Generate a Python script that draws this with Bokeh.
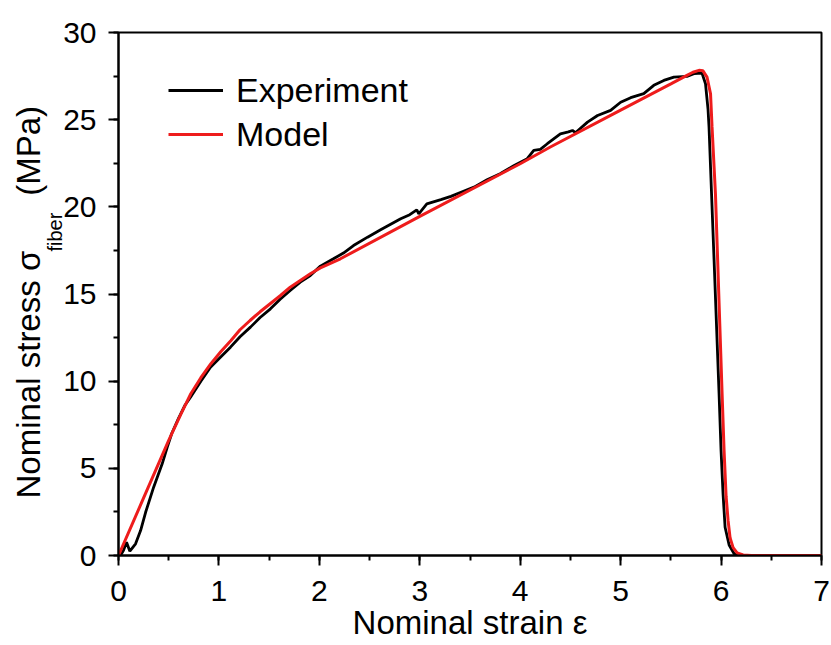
from bokeh.plotting import figure
from bokeh.models import (Legend, LegendItem, SingleIntervalTicker,
                          Range1d, ColumnDataSource, Title)
from bokeh.embed import file_html
from bokeh.resources import INLINE

# ---------------- data ----------------
exp_strain = [0.02, 0.05, 0.08, 0.113, 0.17, 0.22, 0.27, 0.35, 0.435, 0.485,
              0.53, 0.60, 0.66, 0.717, 0.82, 0.916, 1.02, 1.115, 1.21, 1.314,
              1.41, 1.513, 1.61, 1.71, 1.81, 1.91, 2.01, 2.14, 2.24, 2.34,
              2.48, 2.61, 2.71, 2.81, 2.90, 2.97, 2.99, 3.07, 3.21, 3.31,
              3.41, 3.54, 3.67, 3.80, 3.94, 4.07, 4.135, 4.20, 4.27, 4.40,
              4.48, 4.52, 4.55, 4.67, 4.77, 4.90, 5.00, 5.10, 5.23, 5.33,
              5.43, 5.53, 5.66, 5.73, 5.81, 5.845, 5.87, 5.88, 5.93, 5.98,
              6.00, 6.02, 6.04, 6.08, 6.13, 6.16]
exp_stress = [0.0, 0.3, 0.76, 0.25, 0.67, 1.43, 2.48, 3.92, 5.26, 6.2,
              7.0, 7.9, 8.6, 9.08, 10.0, 10.8, 11.4, 11.95, 12.55, 13.1,
              13.65, 14.15, 14.7, 15.2, 15.68, 16.06, 16.6, 17.02, 17.35, 17.78,
              18.26, 18.68, 19.0, 19.32, 19.55, 19.83, 19.6, 20.17, 20.41, 20.6,
              20.84, 21.13, 21.55, 21.9, 22.37, 22.76, 23.24, 23.3, 23.62, 24.19,
              24.3, 24.38, 24.25, 24.86, 25.24, 25.53, 26.0, 26.26, 26.49, 26.97,
              27.25, 27.44, 27.48, 27.64, 27.67, 27.06, 25.6, 24.57, 17.0, 9.28,
              6.0, 3.5, 1.62, 0.6, 0.1, 0.0]

model_strain = [0.0, 0.25, 0.50, 0.62, 0.72, 0.82, 0.92, 1.02, 1.12, 1.21,
                1.31, 1.41, 1.51, 1.61, 1.71, 1.81, 1.91, 2.01, 2.21, 3.0,
                4.0, 4.30, 5.0, 5.5, 5.66, 5.72, 5.78, 5.82, 5.86, 5.895,
                5.91, 5.944, 5.98, 6.01, 6.03, 6.05, 6.07, 6.09, 6.12, 6.16,
                6.22, 6.30, 7.0]
model_stress = [0.0, 3.3, 6.6, 8.1, 9.28, 10.2, 11.0, 11.7, 12.33, 12.95,
                13.48, 13.98, 14.44, 14.9, 15.39, 15.78, 16.16, 16.5, 17.02, 19.45,
                22.47, 23.43, 25.55, 27.05, 27.54, 27.72, 27.83, 27.8, 27.44, 26.49,
                24.6, 20.75, 14.5, 9.3, 6.0, 3.4, 2.0, 1.0, 0.45, 0.15,
                0.03, 0.0, 0.0]

series_labels = ["Experiment", "Model"]
x_title = "Nominal strain ε"
y_title_main = "Nominal stress σ"
y_title_sub = "fiber"
y_title_unit = "(MPa)"

FONT = "Liberation Sans"
RED = "#ee1c1c"
NBSP = "\u00a0"

# ---------------- figure ----------------
p = figure(width=830, height=645,
           x_range=Range1d(0, 7), y_range=Range1d(0, 30),
           output_backend="svg", toolbar_location=None,
           min_border_left=118, min_border_right=9,
           min_border_top=32, min_border_bottom=90)

p.grid.visible = False
p.outline_line_color = "black"
p.outline_line_width = 2
p.background_fill_color = "white"
p.border_fill_color = "white"

p.xaxis.ticker = SingleIntervalTicker(interval=1, num_minor_ticks=2)
p.yaxis.ticker = SingleIntervalTicker(interval=5, num_minor_ticks=2)

for ax in (p.xaxis[0], p.yaxis[0]):
    ax.axis_line_width = 2
    ax.axis_line_color = "black"
    ax.major_tick_line_width = 2
    ax.minor_tick_line_width = 2
    ax.major_tick_out = 10
    ax.major_tick_in = 0
    ax.minor_tick_out = 5
    ax.minor_tick_in = 0
    ax.major_label_text_font = FONT
    ax.major_label_text_font_size = "30px"
    ax.major_label_text_color = "black"
p.xaxis.major_label_standoff = 15
p.yaxis.major_label_standoff = 12
p.yaxis.axis_label = None

p.xaxis.axis_label = x_title
p.xaxis.axis_label_standoff = 0
p.xaxis.axis_label_text_font = FONT
p.xaxis.axis_label_text_font_size = "33px"
p.xaxis.axis_label_text_font_style = "normal"
p.xaxis.axis_label_text_color = "black"

src_exp = ColumnDataSource(dict(x=exp_strain, y=exp_stress))
src_mod = ColumnDataSource(dict(x=model_strain, y=model_stress))
r_exp = p.line("x", "y", source=src_exp, line_color="black", line_width=2.8)
r_mod = p.line("x", "y", source=src_mod, line_color=RED, line_width=3)

legend = Legend(items=[LegendItem(label=series_labels[0], renderers=[r_exp]),
                       LegendItem(label=series_labels[1], renderers=[r_mod])],
                location=(50, 399), padding=0, margin=0, spacing=0,
                glyph_width=55, glyph_height=44, label_height=44,
                label_standoff=13,
                label_text_font=FONT, label_text_font_size="34px",
                label_text_color="black",
                border_line_alpha=0, background_fill_alpha=0)
p.add_layout(legend)

# y-axis title: subscript column next to the axis, main text outside it
sub_title = Title(text=y_title_sub, align="left", offset=304, standoff=-10,
                  text_font=FONT, text_font_size="20px",
                  text_font_style="normal", text_color="black")
main_title = Title(text=y_title_main + NBSP * 6 + y_title_unit,
                   align="left", offset=57, standoff=0,
                   text_font=FONT, text_font_size="33px",
                   text_font_style="normal", text_color="black")
p.add_layout(sub_title, "left")
p.add_layout(main_title, "left")

open("out.html", "w").write(file_html(p, INLINE))
